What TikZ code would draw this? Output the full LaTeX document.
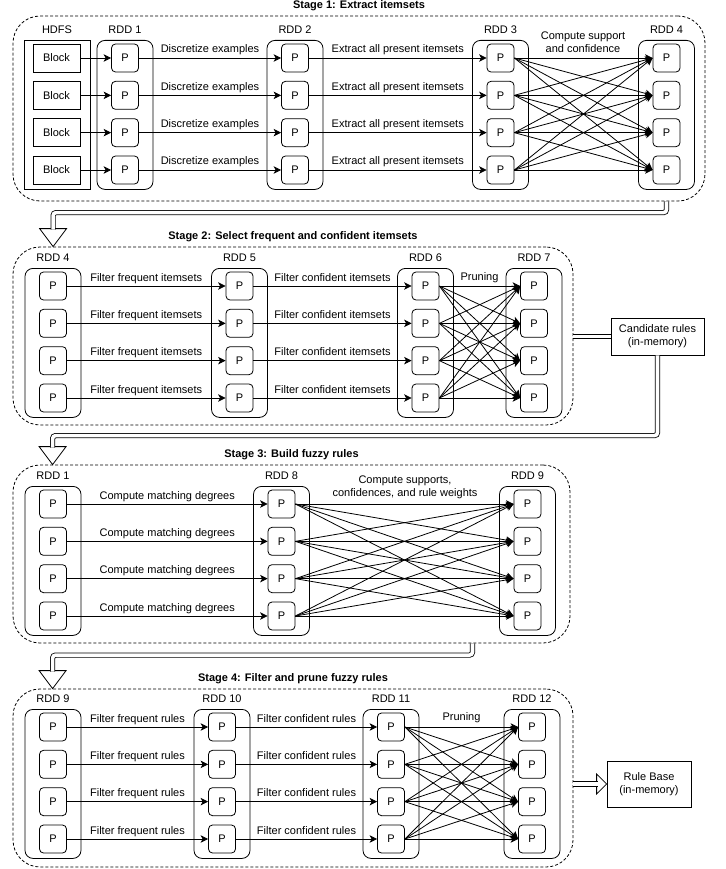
\documentclass[tikz,border=0pt]{standalone}
\usepackage{fontspec}
\setmainfont{Liberation Sans}
\usetikzlibrary{arrows.meta,calc}
\newcommand{\mkrdd}[4]{%
  \node[rddbox, anchor=north] (#1) at (#2,#3) {};
  \node (#1l) at (#2,{#3-10}) {#4};
  \foreach \k in {1,...,4}{\node[pbox] (#1p\k) at (#2,{#3+18+(\k-1)*37.333}) {P};}
}
\begin{document}
\begin{tikzpicture}[x=1pt,y=-1pt,line width=0.8pt,
  every node/.style={font=\fontsize{11}{13}\selectfont, inner sep=0pt},
  stagebox/.style={draw, dash pattern=on 3pt off 2pt, rounded corners=27pt},
  stagetitle/.style={font=\fontsize{11}{13}\selectfont\bfseries},
  rddbox/.style={draw, rounded corners=8pt, minimum width=56pt, minimum height=149pt},
  pbox/.style={draw, rounded corners=4pt, minimum width=27pt, minimum height=28pt},
  blockbox/.style={draw, minimum width=47pt, minimum height=28pt},
  membox/.style={draw, align=center},
  flow/.style={-{Stealth[length=7.5pt,width=7.5pt,inset=2pt]}},
  elbl/.style={midway, anchor=base, yshift=5pt},
  flexshaft/.style={draw, double=white, double distance=3.6pt, rounded corners=3pt},
  flexhead/.style={draw, fill=white, line join=miter}
]
\useasboundingbox (0,0) rectangle (725,869);

% ---------------- Stage 1 ----------------
\node[stagebox, minimum width=692pt, minimum height=185pt] (s1) at (359,108.5) {};
\node[stagetitle] (s1t) at ($(s1.north)+(0,-10)$) {Stage 1: Extract itemsets};
\node[draw, minimum width=66pt, minimum height=149pt] (hdfs) at (57,114.5) {};
\node (hdfsl) at (57,30) {HDFS};
\foreach \k in {1,...,4}{\node[blockbox] (blk\k) at (56.5,{58+(\k-1)*37.333}) {Block};}
\mkrdd{s1r1}{125}{40}{RDD 1}
\mkrdd{s1r2}{295}{40}{RDD 2}
\mkrdd{s1r3}{500.5}{40}{RDD 3}
\mkrdd{s1r4}{666.5}{40}{RDD 4}
\foreach \i in {1,...,4}{
  \draw[flow] (blk\i.east) -- (s1r1p\i.west);
  \draw[flow] (s1r1p\i.east) -- node[elbl]{Discretize examples} (s1r2p\i.west);
  \draw[flow] (s1r2p\i.east) -- node[elbl]{Extract all present itemsets} (s1r3p\i.west);
  \foreach \j in {1,...,4}{\draw[flow] (s1r3p\i.east) -- (s1r4p\j.west);}
}
\node[align=center] (s1c) at (583,42.5) {Compute support\\and confidence};

% ---------------- Stage 2 ----------------
\node[stagebox, minimum width=560pt, minimum height=178pt] (s2) at (293,336) {};
\node[stagetitle] (s2t) at ($(s2.north)+(0,-10)$) {Stage 2: Select frequent and confident itemsets};
\mkrdd{s2r4}{53}{268}{RDD 4}
\mkrdd{s2r5}{239.5}{268}{RDD 5}
\mkrdd{s2r6}{425.5}{268}{RDD 6}
\mkrdd{s2r7}{534}{268}{RDD 7}
\foreach \i in {1,...,4}{
  \draw[flow] (s2r4p\i.east) -- node[elbl]{Filter frequent itemsets} (s2r5p\i.west);
  \draw[flow] (s2r5p\i.east) -- node[elbl]{Filter confident itemsets} (s2r6p\i.west);
  \foreach \j in {1,...,4}{\draw[flow] (s2r6p\i.east) -- (s2r7p\j.west);}
}
\node (s2pr) at (479.5,278) {Pruning};
\node[membox, minimum width=93pt, minimum height=37pt] (cand) at (657.5,336.5) {Candidate rules\\(in-memory)};

% ---------------- Stage 3 ----------------
\node[stagebox, minimum width=557pt, minimum height=178pt] (s3) at (291.5,554) {};
\node[stagetitle] (s3t) at ($(s3.north)+(0,-10)$) {Stage 3: Build fuzzy rules};
\mkrdd{s3r1}{53}{486}{RDD 1}
\mkrdd{s3r8}{281.5}{486}{RDD 8}
\mkrdd{s3r9}{527.5}{486}{RDD 9}
\foreach \i in {1,...,4}{
  \draw[flow] (s3r1p\i.east) -- node[elbl]{Compute matching degrees} (s3r8p\i.west);
  \foreach \j in {1,...,4}{\draw[flow] (s3r8p\i.east) -- (s3r9p\j.west);}
}
\node[align=center] (s3c) at (405,487.5) {Compute supports,\\confidences, and rule weights};

% ---------------- Stage 4 ----------------
\node[stagebox, minimum width=560pt, minimum height=178pt] (s4) at (293,778) {};
\node[stagetitle] (s4t) at ($(s4.north)+(0,-10)$) {Stage 4: Filter and prune fuzzy rules};
\mkrdd{s4r9}{53}{709}{RDD 9}
\mkrdd{s4r10}{222}{709}{RDD 10}
\mkrdd{s4r11}{391}{709}{RDD 11}
\mkrdd{s4r12}{532}{709}{RDD 12}
\foreach \i in {1,...,4}{
  \draw[flow] (s4r9p\i.east) -- node[elbl]{Filter frequent rules} (s4r10p\i.west);
  \draw[flow] (s4r10p\i.east) -- node[elbl]{Filter confident rules} (s4r11p\i.west);
  \foreach \j in {1,...,4}{\draw[flow] (s4r11p\i.east) -- (s4r12p\j.west);}
}
\node (s4pr) at (461.5,718) {Pruning};
\node[membox, minimum width=84pt, minimum height=46pt] (rb) at (649,784) {Rule Base\\(in-memory)};

% ---------------- Flex connectors ----------------
% Stage 1 -> Stage 2
\draw[flexhead] ($(s2.north west)+(40.5,0)$) -- ++(-13.5,-18) -- ++(27,0) -- cycle;
\draw[flexshaft] (s1.south -| s1r4) |- ($(s2.north west)+(40.5,-34)$) -- ($(s2.north west)+(40.5,-17)$);
% Stage 2 -> Candidate rules
\draw[flexshaft] (s2.east |- cand.west) -- (cand.west);
% Candidate rules -> Stage 3
\draw[flexhead] ($(s3.north west)+(40,0)$) -- ++(-13.5,-18) -- ++(27,0) -- cycle;
\draw[flexshaft] (cand.south) |- ($(s3.north west)+(40,-29)$) -- ($(s3.north west)+(40,-17)$);
% Stage 3 -> Stage 4
\draw[flexhead] ($(s4.north west)+(40,0)$) -- ++(-13.5,-18) -- ++(27,0) -- cycle;
\draw[flexshaft] ([xshift=181pt]s3.south) |- ($(s4.north west)+(40,-33.5)$) -- ($(s4.north west)+(40,-17)$);
% Stage 4 -> Rule Base
\draw[flexhead] (rb.west) -- ++(-10,-10) -- ++(0,20) -- cycle;
\draw[flexshaft] (s4.east |- rb.west) -- ($(rb.west)+(-9,0)$);
\end{tikzpicture}
\end{document}
